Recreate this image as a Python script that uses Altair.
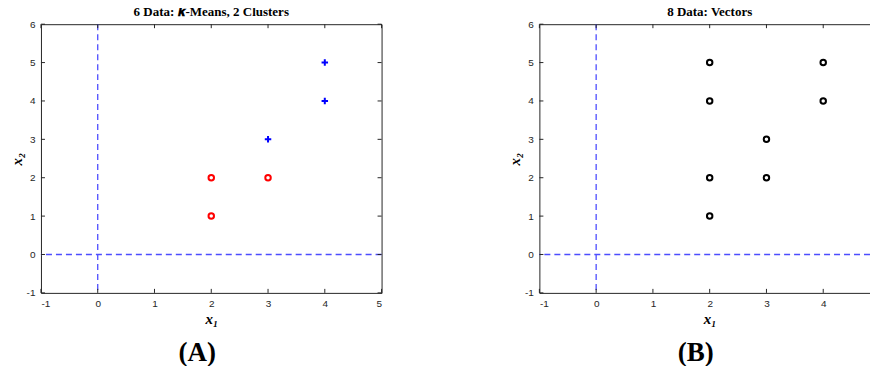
import altair as alt
import pandas as pd

# ---- data ----
a_red_x = [2, 2, 3]
a_red_y = [1, 2, 2]
a_blue_x = [3, 4, 4]
a_blue_y = [3, 4, 5]
b_x = [2, 2, 2, 2, 3, 3, 4, 4]
b_y = [1, 2, 4, 5, 2, 3, 4, 5]

x_ticks = [-1, 0, 1, 2, 3, 4, 5]
y_ticks = [-1, 0, 1, 2, 3, 4, 5, 6]
titles = ["6 Data: 𝒌-Means, 2 Clusters", "8 Data: Vectors"]
panel_labels = ["(A)", "(B)"]
origin = [0]

# ---- style ----
W, H = 341, 269
TICK = 4
AXC = "#262626"
DASH = "#4d4dff"
SERIF = "Liberation Serif, DejaVu Serif, serif"
SANS = "Liberation Sans, Arial, sans-serif"

xs = alt.Scale(domain=[-1, 5], nice=False, zero=False)
ys = alt.Scale(domain=[-1, 6], nice=False, zero=False)

x_axis = alt.Axis(values=x_ticks, labelExpr="'' + datum.value", ticks=False, domain=False,
                  grid=False, labelPadding=6, labelFont=SANS, labelFontSize=10, labelColor=AXC,
                  title="x₁", titleFont=SERIF, titleFontSize=15, titleFontStyle="italic",
                  titleFontWeight="bold", titleColor="black", titlePadding=3)
y_axis = alt.Axis(values=y_ticks, labelExpr="'' + datum.value", ticks=False, domain=False,
                  grid=False, labelPadding=6, labelFont=SANS, labelFontSize=10, labelColor=AXC,
                  title="x₂", titleFont=SERIF, titleFontSize=15, titleFontStyle="italic",
                  titleFontWeight="bold", titleColor="black", titlePadding=2)


def frame_layers():
    dx = pd.DataFrame({"t": x_ticks})
    dy = pd.DataFrame({"t": y_ticks})
    do = pd.DataFrame({"o": origin})
    vline = alt.Chart(do).mark_rule(color=DASH, strokeDash=[6, 4], strokeWidth=1.3).encode(
        x=alt.X("o:Q", scale=xs, axis=x_axis))
    hline = alt.Chart(do).mark_rule(color=DASH, strokeDash=[6, 4], strokeWidth=1.3).encode(
        y=alt.Y("o:Q", scale=ys, axis=y_axis))
    tb = alt.Chart(dx).mark_rule(color=AXC, strokeWidth=1).encode(
        x=alt.X("t:Q", scale=xs, axis=x_axis), y=alt.value(H), y2=alt.value(H - TICK))
    tt = alt.Chart(dx).mark_rule(color=AXC, strokeWidth=1).encode(
        x=alt.X("t:Q", scale=xs, axis=x_axis), y=alt.value(0), y2=alt.value(TICK))
    tl = alt.Chart(dy).mark_rule(color=AXC, strokeWidth=1).encode(
        y=alt.Y("t:Q", scale=ys, axis=y_axis), x=alt.value(0), x2=alt.value(TICK))
    tr = alt.Chart(dy).mark_rule(color=AXC, strokeWidth=1).encode(
        y=alt.Y("t:Q", scale=ys, axis=y_axis), x=alt.value(W), x2=alt.value(W - TICK))
    return [vline, hline, tb, tt, tl, tr]


def label_layer(text):
    return alt.Chart(pd.DataFrame({"lab": [text]})).mark_text(
        font=SERIF, fontSize=27, fontWeight="bold", color="black", baseline="middle"
    ).encode(text="lab:N", x=alt.value(W / 2 - 14), y=alt.value(H + 60))


def pts(xv, yv, color, shape, size):
    return alt.Chart(pd.DataFrame({"x": xv, "y": yv})).mark_point(
        shape=shape, filled=False, color=color, strokeWidth=2, size=size, opacity=1
    ).encode(x=alt.X("x:Q", scale=xs, axis=x_axis), y=alt.Y("y:Q", scale=ys, axis=y_axis))


title_params = dict(font=SERIF, fontSize=13, fontWeight="bold", color="black", offset=0)

panel_a = alt.layer(
    pts(a_red_x, a_red_y, "#ff0000", "circle", 30),
    pts(a_blue_x, a_blue_y, "#0000ff", "M-1,0H1M0,-1V1", 42),
    *frame_layers(),
    label_layer(panel_labels[0]),
).properties(width=W, height=H, title=alt.TitleParams(titles[0], **title_params))

panel_b = alt.layer(
    pts(b_x, b_y, "#000000", "circle", 30),
    *frame_layers(),
    label_layer(panel_labels[1]),
).properties(width=W, height=H, title=alt.TitleParams(titles[1], **title_params))

chart = alt.hconcat(panel_a, panel_b, spacing=123).properties(
    padding={"left": 0, "top": -3, "right": -12, "bottom": -1}
).configure(background="white").configure_view(stroke=AXC, strokeWidth=1)

chart.save("out.html", embed_options={"renderer": "svg", "actions": False})
